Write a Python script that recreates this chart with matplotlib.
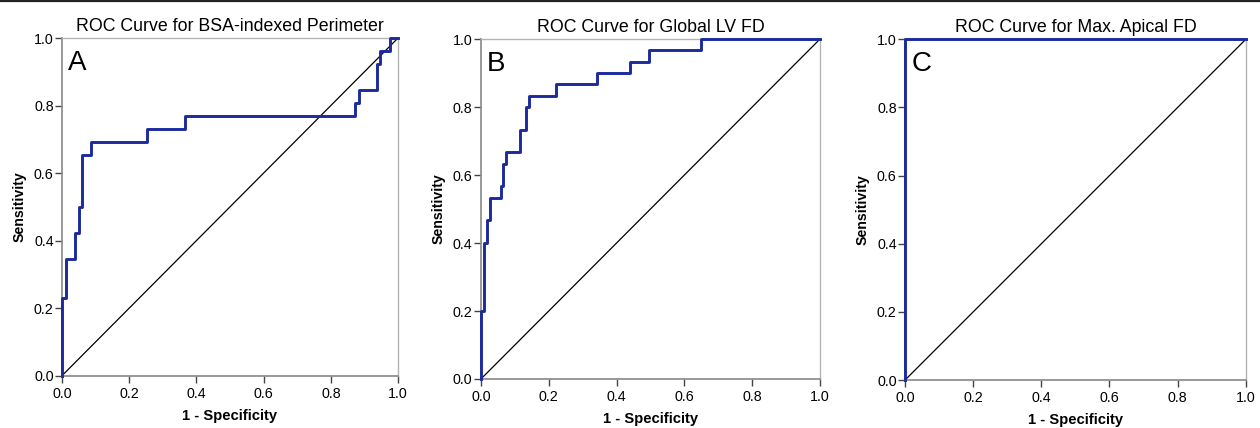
import matplotlib
matplotlib.use("Agg")
import matplotlib.pyplot as plt
from matplotlib.lines import Line2D

plt.rcParams['font.family'] = ['Liberation Sans', 'DejaVu Sans']

# ── ROC step vertices (1 - specificity, sensitivity) ──────────
fpr_a = [0.0, 0.012, 0.040, 0.050, 0.061, 0.086, 0.252, 0.366, 0.873, 0.884, 0.938, 0.947, 0.975, 1.0]
tpr_a = [0.0, 0.231, 0.346, 0.423, 0.500, 0.654, 0.692, 0.731, 0.769, 0.808, 0.846, 0.923, 0.962, 1.0]

fpr_b = [0.0, 0.009, 0.019, 0.028, 0.058, 0.066, 0.075, 0.115, 0.133, 0.142, 0.220, 0.341, 0.440, 0.497, 0.649, 1.0]
tpr_b = [0.0, 0.200, 0.400, 0.467, 0.533, 0.567, 0.633, 0.667, 0.733, 0.800, 0.833, 0.867, 0.900, 0.933, 0.967, 1.0]

fpr_c = [0.0, 1.0]
tpr_c = [0.0, 1.0]

titles = ["ROC Curve for BSA-indexed Perimeter",
          "ROC Curve for Global LV FD",
          "ROC Curve for Max. Apical FD"]
letters = ["A", "B", "C"]
ticks = [0.0, 0.2, 0.4, 0.6, 0.8, 1.0]

CURVE = '#1b2a9c'

fig = plt.figure(figsize=(12.6, 4.28), dpi=100)
# thin dark rule along the top edge
fig.add_artist(Line2D([0, 1], [0.998, 0.998], color='#222222', lw=1.6,
                      transform=fig.transFigure))

boxes = [[0.0492, 0.1222, 0.2667, 0.789],
         [0.3817, 0.1145, 0.2690, 0.794],
         [0.7183, 0.1121, 0.2704, 0.796]]
curves = [(fpr_a, tpr_a), (fpr_b, tpr_b), (fpr_c, tpr_c)]

for box, (fx, ty), title, letter in zip(boxes, curves, titles, letters):
    ax = fig.add_axes(box)
    ax.plot([0, 1], [0, 1], color='black', lw=0.9, zorder=2)
    ax.plot(fx, ty, drawstyle='steps-pre', color=CURVE, lw=2.1,
            zorder=3, clip_on=False)
    ax.set_xlim(0, 1)
    ax.set_ylim(0, 1)
    ax.set_xticks(ticks)
    ax.set_yticks(ticks)
    ax.set_xticklabels([f"{t:.1f}" for t in ticks])
    ax.set_yticklabels([f"{t:.1f}" for t in ticks])
    ax.tick_params(direction='out', length=5, width=1.0, color='#444444',
                   labelsize=10.3, pad=1)
    ax.tick_params(axis='x', pad=3)
    for side in ('left', 'bottom'):
        ax.spines[side].set_color('#888888')
        ax.spines[side].set_linewidth(1.2)
    for side in ('top', 'right'):
        ax.spines[side].set_color('#b4b4b4')
        ax.spines[side].set_linewidth(1.0)
    ax.set_title(title, fontsize=12.8, pad=5)
    ax.set_xlabel("1 - Specificity", fontsize=10.6, fontweight='bold', labelpad=6)
    ax.set_ylabel("Sensitivity", fontsize=10.2, fontweight='bold', labelpad=5)
    ax.text(0.018, 0.965, letter, transform=ax.transAxes, fontsize=20,
            ha='left', va='top')

fig.savefig("out.png", dpi=100)
